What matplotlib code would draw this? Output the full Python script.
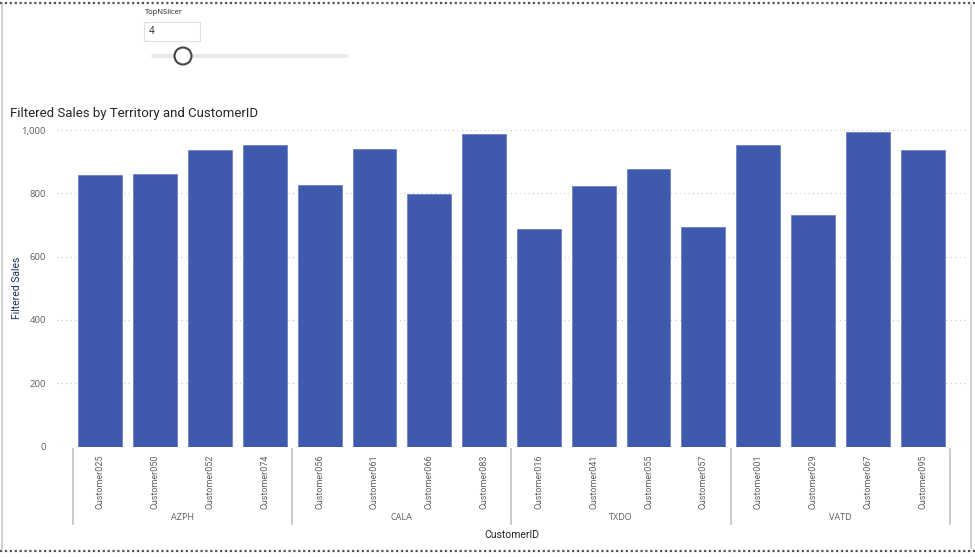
import matplotlib
matplotlib.use("Agg")
from matplotlib import pyplot as plt
from matplotlib.patches import Rectangle, Circle
import numpy as np

territories = ["AZPH", "CALA", "TXDO", "VATD"]
customers = [
    "Customer025", "Customer050", "Customer052", "Customer074",
    "Customer056", "Customer061", "Customer066", "Customer083",
    "Customer016", "Customer041", "Customer055", "Customer057",
    "Customer001", "Customer029", "Customer067", "Customer095",
]
customer_territory = ["AZPH"] * 4 + ["CALA"] * 4 + ["TXDO"] * 4 + ["VATD"] * 4
filtered_sales = [857, 861, 936, 953, 827, 939, 797, 987,
                  689, 822, 876, 694, 952, 732, 995, 938]
top_n = 4
yticks = [0, 200, 400, 600, 800, 1000]

W, H = 975, 557
BAR = "#3F59AD"
GREY = "#605E5C"
DARK = "#252423"

plt.rcParams['font.family'] = ['Open Sans', 'DejaVu Sans']
fig = plt.figure(figsize=(W / 100, H / 100), dpi=100)

# main plot area, in pixel positions of the reference
left, right, top, bottom = 57, 968, 127, 446.5
ax = fig.add_axes([left / W, 1 - bottom / H, (right - left) / W, (bottom - top) / H])

x = np.arange(len(customers))
ax.bar(x, filtered_sales, width=0.8, color=BAR, edgecolor="#6F82C4", linewidth=0.6, zorder=2)

step = (950 - 73) / len(customers)
ax.set_xlim(-0.5 - (73 - left) / step, 15.5 + (right - 950) / step)
ax.set_ylim(0, 1010)

ax.set_yticks(yticks)
ax.set_yticklabels([f"{v:,}" for v in yticks], fontsize=6.8, color=GREY)
ax.tick_params(axis="y", length=0, pad=8)
ax.grid(axis="y", color="#C8C8C8", linestyle=(0, (1, 3)), linewidth=0.8, zorder=0)

ax.set_xticks(x)
ax.set_xticklabels(customers, rotation=90, fontsize=6.5, color=GREY, va="top",
                   family=["Roboto", "DejaVu Sans"])
ax.tick_params(axis="x", length=0, pad=6)

for s in ax.spines.values():
    s.set_visible(False)

# territory separators and labels under the customer ticks
tr = ax.get_xaxis_transform()
ah = bottom - top
y0 = -(449 - bottom) / ah
y1 = -(524 - bottom) / ah
bounds = [-0.5]
for t in territories:
    idx = [i for i, c in enumerate(customer_territory) if c == t]
    bounds.append(idx[-1] + 0.5)
    ax.text(np.mean(idx), -(518 - bottom) / ah, t, transform=tr, ha="center", va="center",
            fontsize=6.5, color=GREY)
for b in bounds:
    ax.plot([b, b], [y0, y1], transform=tr, color="#C0C0C0", linewidth=1.2, clip_on=False)

# overlay in pixel coordinates for title, labels, slicer and frame
ov = fig.add_axes([0, 0, 1, 1], facecolor="none")
ov.set_xlim(0, W)
ov.set_ylim(H, 0)
ov.axis("off")

ov.text(10, 114, "Filtered Sales by Territory and CustomerID", fontsize=9.5, color=DARK,
        ha="left", va="center", family=["Roboto", "DejaVu Sans"])
ov.text(512, 535, "CustomerID", fontsize=7.5, color=DARK, ha="center", va="center",
        family=["Roboto", "DejaVu Sans"])
ov.text(17, 288, "Filtered Sales", fontsize=7.5, color="#1F2D5A", rotation=90, ha="center",
        va="center", family=["Roboto", "DejaVu Sans"])

# slicer
ov.text(145, 13, "TopNSlicer", fontsize=5.5, color=DARK, ha="left", va="center")
ov.add_patch(Rectangle((144, 22), 56, 19, facecolor="white", edgecolor="#E1E1E1", linewidth=0.8))
ov.text(149, 32, str(top_n), fontsize=7, color=DARK, ha="left", va="center")
ov.plot([153, 346], [56, 56], color="#E8E8E8", linewidth=3, solid_capstyle="round")
ov.add_patch(Circle((183, 56), 8.5, facecolor="white", edgecolor="#444444", linewidth=1.5, zorder=3))

# frame
ov.plot([0, W], [3, 3], color="#555555", linestyle=(0, (1, 1.2)), linewidth=1.6)
ov.plot([0, W], [551, 551], color="#555555", linestyle=(0, (1, 1.2)), linewidth=1.6)
ov.plot([1.5, 1.5], [5, 549], color="#C8C8C8", linewidth=1.2)
ov.plot([971, 971], [5, 548], color="#C8C8C8", linewidth=1.2)

fig.savefig("out.png", dpi=100)
